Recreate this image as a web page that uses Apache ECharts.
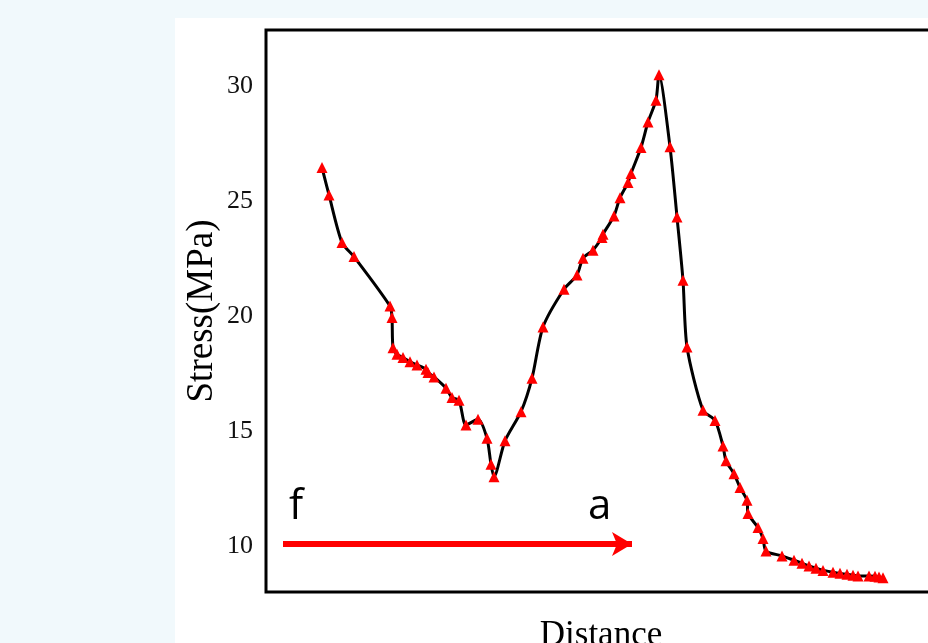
<!DOCTYPE html>
<html>
<head>
<meta charset="utf-8">
<style>
  html, body { margin: 0; padding: 0; background: #f1f9fc; overflow: hidden; }
  #main { width: 928px; height: 643px; }
</style>
<script src="https://cdn.jsdelivr.net/npm/echarts@6/dist/echarts.min.js"></script>
</head>
<body>
<div id="main"></div>
<script>
// distance (arbitrary units along the section, f -> a) and stress in MPa
var distance = [
  56, 63, 76, 88, 124, 126, 127, 131, 137, 144, 151, 160, 162, 168,
  180, 186, 193, 200, 212, 221, 225, 228, 239, 255, 266, 277, 298, 311,
  317, 327, 336, 337, 348, 354, 362, 365, 375, 382, 390, 393,
  404, 411, 417, 421, 437, 449, 457, 460, 468, 474, 481, 482, 492, 497,
  500, 516, 528, 536, 543, 550, 557, 567, 574, 581, 587, 592, 603, 609, 613, 617
];
var stress = [
  26.45, 25.26, 23.19, 22.58, 20.43, 19.93, 18.62, 18.33, 18.19, 18.01, 17.87, 17.68, 17.54, 17.35,
  16.86, 16.45, 16.33, 15.26, 15.51, 14.68, 13.55, 13.01, 14.57, 15.84, 17.29, 19.52, 21.16, 21.78,
  22.51, 22.86, 23.41, 23.55, 24.35, 25.14, 25.80, 26.19, 27.32, 28.43, 29.38, 30.48,
  27.35, 24.30, 21.55, 18.65, 15.90, 15.46, 14.35, 13.70, 13.14, 12.54, 11.99, 11.41, 10.80, 10.33,
  9.78, 9.57, 9.38, 9.25, 9.13, 9.03, 8.94, 8.86, 8.81, 8.77, 8.73, 8.70, 8.70, 8.68, 8.65, 8.62
];
var yTicks = [10, 15, 20, 25, 30];
// direction arrow f -> a
var arrowFrom = [17, 10.09];
var arrowTo = [366, 10.09];

var points = distance.map(function (d, i) { return [d, stress[i]]; });

var chart = echarts.init(document.getElementById('main'));

var option = {
  backgroundColor: '#f1f9fc',
  animation: false,
  graphic: [
    { type: 'rect', z: -10, shape: { x: 175, y: 18, width: 760, height: 630 }, style: { fill: '#ffffff' } },
    { type: 'text', left: 289, top: 486, z: 100, style: { text: 'f', font: '42px "Open Sans"', fill: '#000' } },
    { type: 'text', left: 588, top: 486, z: 100, style: { text: 'a', font: '42px "Open Sans"', fill: '#000' } }
  ],
  grid: {
    left: 266,
    right: -8,
    top: 30,
    bottom: 51,
    outerBoundsMode: 'none',
    containLabel: false,
    show: true,
    borderColor: '#000',
    borderWidth: 3,
    backgroundColor: 'transparent'
  },
  xAxis: {
    type: 'value',
    min: 0,
    max: 670,
    name: 'Distance',
    nameLocation: 'middle',
    nameGap: 26,
    nameMoveOverlap: false,
    nameTextStyle: { fontFamily: 'Liberation Serif', fontSize: 35, color: '#000', verticalAlign: 'top' },
    axisLine: { show: false },
    axisTick: { show: false },
    axisLabel: { show: false },
    splitLine: { show: false }
  },
  yAxis: {
    type: 'value',
    min: 8,
    max: 32.43,
    name: 'Stress(MPa)',
    nameLocation: 'middle',
    nameGap: 45,
    nameMoveOverlap: false,
    nameTextStyle: { fontFamily: 'Liberation Serif', fontSize: 37, color: '#000' },
    axisLine: { show: false },
    axisTick: { show: false },
    splitLine: { show: false },
    axisLabel: {
      customValues: yTicks,
      margin: 13,
      fontFamily: 'Liberation Serif',
      fontSize: 26,
      color: '#111'
    }
  },
  series: [
    {
      type: 'line',
      data: points,
      smooth: 0.25,
      symbol: 'triangle',
      symbolSize: 11,
      lineStyle: { color: '#000', width: 3 },
      itemStyle: { color: '#ff0000' },
      z: 3,
      markLine: {
        silent: true,
        symbol: ['none', 'arrow'],
        symbolSize: [18, 20],
        label: { show: false },
        lineStyle: { color: '#ff0000', width: 6, type: 'solid' },
        data: [[{ coord: arrowFrom }, { coord: arrowTo }]]
      }
    }
  ]
};

chart.setOption(option);
</script>
</body>
</html>
